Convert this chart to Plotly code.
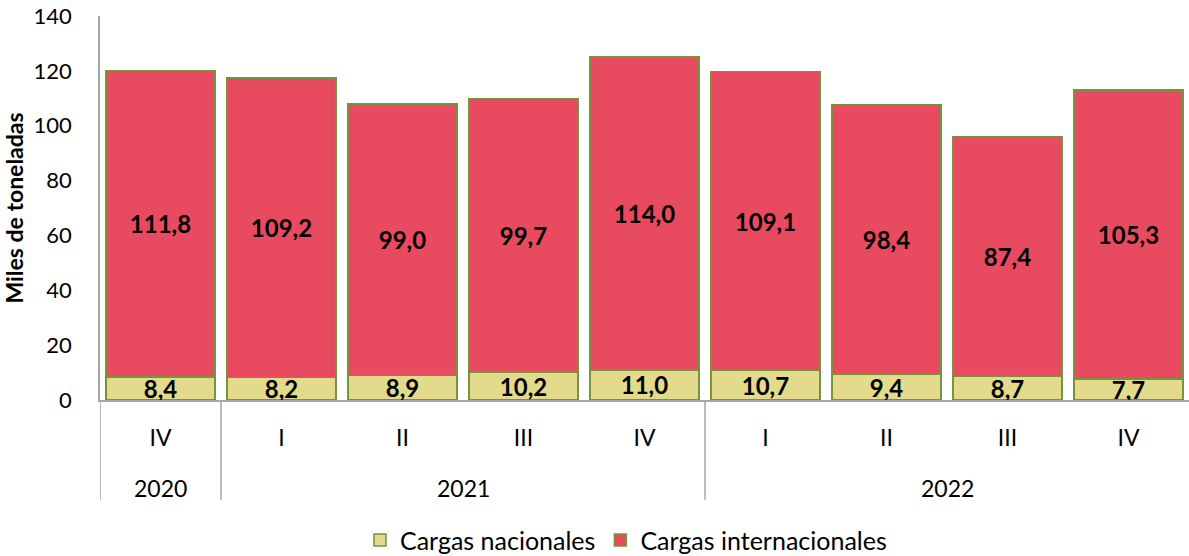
import plotly.graph_objects as go

# datos
trimestres = ["IV", "I", "II", "III", "IV", "I", "II", "III", "IV"]
anios = ["2020", "2021", "2022"]
anios_centro = [0, 2.5, 6.5]        # posicion central de cada grupo de trimestres
divisores = [-0.5, 0.5, 4.5]        # separadores entre anios
nacionales = [8.4, 8.2, 8.9, 10.2, 11.0, 10.7, 9.4, 8.7, 7.7]
internacionales = [111.8, 109.2, 99.0, 99.7, 114.0, 109.1, 98.4, 87.4, 105.3]

pos = list(range(len(trimestres)))


def fmt(v):
    return f"{v:.1f}".replace(".", ",")


FONT = "Lato, 'Open Sans', sans-serif"
GRIS = "#A6A6A6"
borde = dict(color="#77933C", width=1.5)
etiqueta = dict(family=FONT, size=24, color="black", weight="bold")

fig = go.Figure()
fig.add_trace(go.Bar(
    x=pos, y=nacionales, name="Cargas nacionales",
    marker=dict(color="#E3DA8B", line=borde),
    text=[fmt(v) for v in nacionales], textposition="inside",
    insidetextanchor="middle", constraintext="none", textfont=etiqueta,
))
fig.add_trace(go.Bar(
    x=pos, y=internacionales, name="Cargas internacionales",
    marker=dict(color="#E84A5F", line=borde),
    text=[fmt(v) for v in internacionales], textposition="inside",
    insidetextanchor="middle", constraintext="none", textfont=etiqueta,
))

# fila de anios
for a, c in zip(anios, anios_centro):
    fig.add_annotation(x=c, y=-0.229, xref="x", yref="paper", text=a,
                       showarrow=False, font=dict(size=23), yanchor="middle")

# separadores verticales de la fila de categorias
for d in divisores:
    fig.add_shape(type="line", xref="x", yref="paper", x0=d, x1=d, y0=0, y1=-0.26,
                  line=dict(color=GRIS, width=1.5))

fig.update_layout(
    barmode="stack", bargap=0.1,
    width=1189, height=556,
    margin=dict(l=100, r=0, t=16, b=156, autoexpand=False),
    plot_bgcolor="white", paper_bgcolor="white",
    font=dict(family=FONT, size=23, color="black"),
    legend=dict(orientation="h", x=0.483, xanchor="center", y=-0.365, yanchor="middle",
                font=dict(size=25), traceorder="normal", itemwidth=30),
    showlegend=True,
)
fig.update_yaxes(range=[0, 140], dtick=20, showgrid=False, showline=True,
                 linecolor=GRIS, linewidth=1.5, ticks="", zeroline=False,
                 automargin=False, tickfont=dict(size=22), ticklabelstandoff=22,
                 title=dict(text="<b>Miles de toneladas</b>", font=dict(size=23), standoff=13))
fig.update_xaxes(range=[-0.5, 8.5], showline=True, linecolor=GRIS, linewidth=1.5,
                 tickvals=pos, ticktext=trimestres, ticks="", showgrid=False,
                 automargin=False, tickfont=dict(size=23), ticklabelstandoff=17)

# sin margen en el body para que la figura ocupe toda la ventana
fig.write_html("out.html", config={"displayModeBar": False},
               post_script="document.body.style.margin='0px';")
